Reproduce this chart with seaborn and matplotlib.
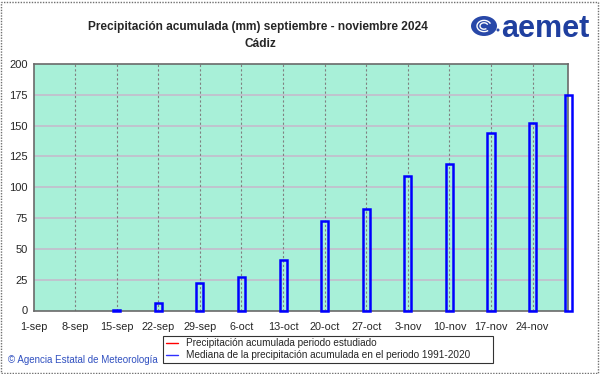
import matplotlib
matplotlib.use("Agg")
import matplotlib.pyplot as plt
import seaborn as sns
import pandas as pd
from matplotlib.lines import Line2D
from matplotlib.patches import Rectangle, Ellipse, Arc

# ---- data ----
tick_days = [0, 7, 14, 21, 28, 35, 42, 49, 56, 63, 70, 77, 84]
tick_labels = ["1-sep", "8-sep", "15-sep", "22-sep", "29-sep", "6-oct", "13-oct",
               "20-oct", "27-oct", "3-nov", "10-nov", "17-nov", "24-nov"]
bar_days = [14, 21, 28, 35, 42, 49, 56, 63, 70, 77, 84, 90]
median_precip = [0.3, 6, 22, 27.5, 41, 72.5, 82, 109, 118.5, 144, 152.5, 175]
y_ticks = [0, 25, 50, 75, 100, 125, 150, 175, 200]

title = "Precipitación acumulada (mm) septiembre - noviembre 2024"
subtitle = "Cádiz"
legend_labels = ["Precipitación acumulada periodo estudiado",
                 "Mediana de la precipitación acumulada en el periodo 1991-2020"]
credit = "\u00a9 Agencia Estatal de Meteorología"

sns.set_style("white")
plt.rcParams["font.family"] = ["Liberation Sans", "DejaVu Sans"]

W, H = 601, 374
fig = plt.figure(figsize=(W / 100, H / 100), dpi=100)
fig.patch.set_facecolor("white")
ax = fig.add_axes([33.5 / W, 1 - 310.5 / H, (568.3 - 33.5) / W, (310.5 - 64) / H])
ax.set_facecolor("#a8f0d8")

df = pd.DataFrame({"day": bar_days, "value": median_precip})
sns.barplot(data=df, x="day", y="value", native_scale=True, width=0.2,
            fill=False, color="#0000ff", linewidth=1.8, ax=ax, zorder=3)
for p in ax.patches:
    p.set_edgecolor("#0000ff")
    p.set_facecolor("none")
    p.set_clip_on(False)

ax.set_xlim(0, 90)
ax.set_ylim(0, 200)
ax.set_xticks(tick_days)
ax.set_xticklabels(tick_labels, fontsize=7.8)
ax.set_yticks(y_ticks)
ax.set_yticklabels([str(v) for v in y_ticks], fontsize=8)
ax.tick_params(axis="y", length=0, pad=4)
ax.tick_params(axis="x", length=0, pad=8)
ax.set_xlabel("")
ax.set_ylabel("")

for v in y_ticks[1:-1]:
    ax.axhline(v, color="#c4bccc", lw=1.2, zorder=1)
for d in tick_days[1:]:
    ax.axvline(d, color="#808080", lw=0.8, ls=(0, (2, 2)), zorder=1)

for s in ax.spines.values():
    s.set_color("#6a6a6a")
    s.set_linewidth(1.2)

# titles
fig.text(258 / W, 1 - 27 / H, title, ha="center", va="center", fontsize=8.6, fontweight="bold")
fig.text(260 / W, 1 - 44 / H, subtitle, ha="center", va="center", fontsize=8.6, fontweight="bold")

# logo (approximation)
fig.text(501 / W, 1 - 29 / H, "aemet", ha="left", va="center", fontsize=22,
         fontweight="bold", color="#1f3f9f")
fig.add_artist(Ellipse((484 / W, 1 - 26 / H), 26 / W, 20 / H, transform=fig.transFigure,
                       facecolor="#2848a8", edgecolor="none"))
for r in (14, 8):
    fig.add_artist(Arc((484 / W, 1 - 26 / H), r / W, r * 0.8 / H, transform=fig.transFigure,
                       theta1=30, theta2=300, color="white", lw=1))
fig.add_artist(Ellipse((498 / W, 1 - 30 / H), 3 / W, 3 / H, transform=fig.transFigure,
                       facecolor="#2848a8", edgecolor="none"))

# legend
handles = [Line2D([], [], color="red", lw=1), Line2D([], [], color="#3030ff", lw=1)]
leg = fig.legend(handles, legend_labels, loc="lower left", mode="expand",
                 bbox_to_anchor=(163 / W, 1 - 363 / H, 330 / W, 25 / H), fontsize=7.2,
                 frameon=True, fancybox=False, handlelength=1.2, handletextpad=0.8,
                 borderpad=0.3, labelspacing=0.15, borderaxespad=0)
leg.get_frame().set_edgecolor("black")
leg.get_frame().set_linewidth(0.8)

fig.text(8 / W, 1 - 360 / H, credit, ha="left", va="center", fontsize=7,
         color="#3050c0")

# figure border
fig.add_artist(Rectangle((1 / W, 1 / H), 597 / W, 371 / H,
                         transform=fig.transFigure, fill=False,
                         edgecolor="#707070", lw=1, ls=(0, (1, 1))))

fig.savefig("out.png", dpi=100)
